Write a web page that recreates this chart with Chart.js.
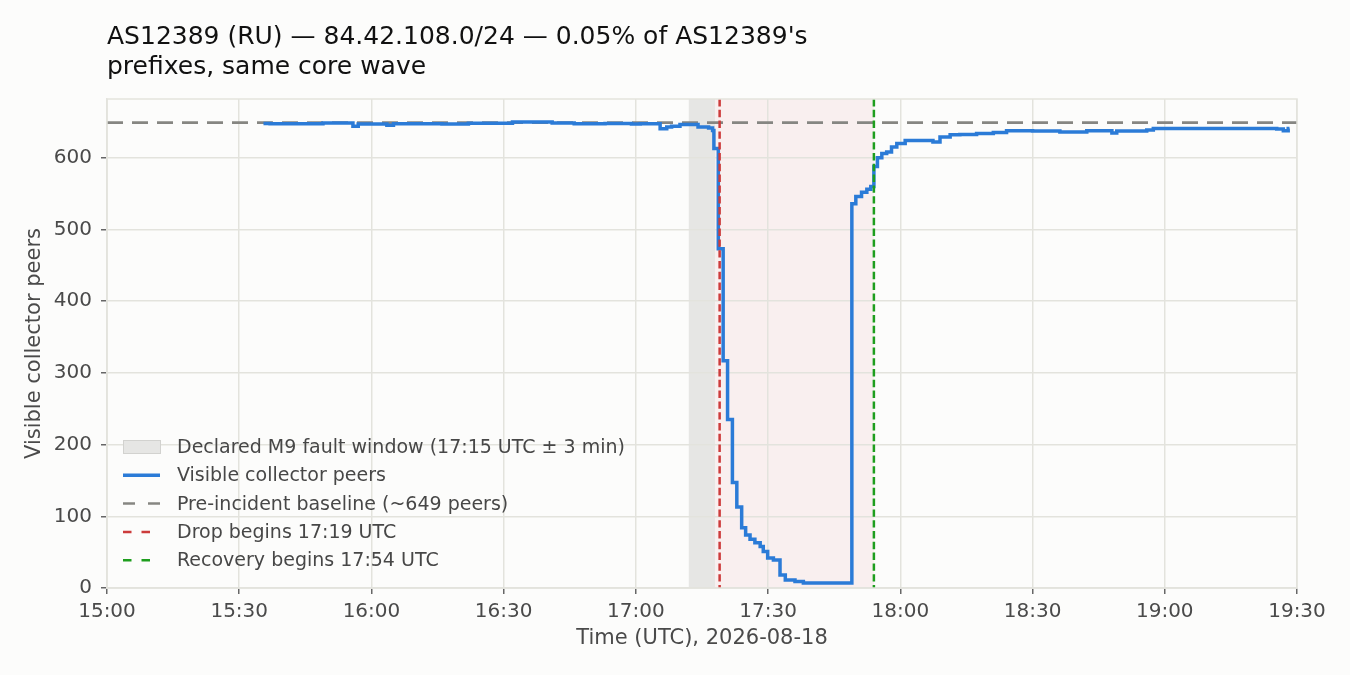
<!DOCTYPE html>
<html>
<head>
<meta charset="utf-8">
<script src="https://cdn.jsdelivr.net/npm/chart.js@4.4.1/dist/chart.umd.min.js"></script>
<style>
  html, body { margin: 0; padding: 0; background: #fcfcfb; }
  #chart { display: block; }
</style>
</head>
<body>
<canvas id="chart" width="1350" height="675"></canvas>
<script>
// minutes after 15:00 UTC, 2026-08-18
const minutes = [
  35.5, 37, 49, 55.8, 57, 63.5, 65, 76, 82, 92, 101, 106, 113, 119,
  121, 125.5, 127, 128.1, 130, 134.1, 136.5, 137.4, 137.7, 138.7,
  139.8, 140.8, 141.9, 142.9, 144.0, 144.9, 145.9, 147.0, 148.2, 148.9,
  149.9, 151.2, 152.7, 153.9, 156.1, 158.0,
  169.0, 169.9, 171.2, 172.4, 173.3, 174.0, 174.8, 175.8, 176.9, 178.0,
  179.2, 181.1, 187.4, 189.0, 191.3, 193.5, 197.3, 201.1, 204.1, 210,
  214.6, 216.2, 222.3, 228, 229.1, 235.9, 237.4, 265.4, 266.9, 268, 268.3
];
const peers = [
  648, 647.5, 648.5, 644, 647, 645.5, 647.5, 647, 648.3, 650, 648.5, 647.5, 648, 647,
  647.5, 640.5, 643, 644, 646.5, 643, 641.5, 638, 613, 473,
  317, 235, 147, 113, 84, 74, 68, 63, 58, 51,
  42, 39, 18, 11, 9, 7,
  536, 546, 552, 556, 560, 588, 600, 606, 608, 615,
  620, 624, 622, 629, 632, 632.6, 634, 635.4, 637.7, 637.3,
  637.5, 636, 637.7, 634.5, 637.3, 638.7, 641, 640, 637.7, 641, 641
];
const baselinePeers = 649;
const xTickLabels = ["15:00", "15:30", "16:00", "16:30", "17:00", "17:30", "18:00", "18:30", "19:00", "19:30"];
const yTicks = [0, 100, 200, 300, 400, 500, 600];
const faultWindow = [132, 138];   // 17:12 - 17:18
const outageWindow = [138, 174];  // 17:18 - 17:54
const dropStart = 139;            // 17:19
const recoveryStart = 174;        // 17:54

const titleLines = [
  "AS12389 (RU) \u2014 84.42.108.0/24 \u2014 0.05% of AS12389's",
  "prefixes, same core wave"
];
const legendItems = [
  { label: "Declared M9 fault window (17:15 UTC \u00b1 3 min)", kind: "patch" },
  { label: "Visible collector peers", kind: "line", color: "#2b7bd7" },
  { label: "Pre-incident baseline (~649 peers)", kind: "dash", color: "#868682" },
  { label: "Drop begins 17:19 UTC", kind: "short", color: "#cc3b3b" },
  { label: "Recovery begins 17:54 UTC", kind: "short", color: "#1e9e1e" }
];

const FONT = "'DejaVu Sans', sans-serif";
const gridColor = "#e3e3dd";

const decorPlugin = {
  id: "decor",
  beforeDraw(chart) {
    const { ctx, chartArea: a, scales: { x } } = chart;
    ctx.save();
    ctx.fillStyle = "#fcfcfb";
    ctx.fillRect(0, 0, chart.width, chart.height);
    ctx.fillStyle = "#e6e6e4";
    ctx.fillRect(x.getPixelForValue(faultWindow[0]), a.top,
      x.getPixelForValue(faultWindow[1]) - x.getPixelForValue(faultWindow[0]), a.bottom - a.top);
    ctx.fillStyle = "#f9efef";
    ctx.fillRect(x.getPixelForValue(outageWindow[0]), a.top,
      x.getPixelForValue(outageWindow[1]) - x.getPixelForValue(outageWindow[0]), a.bottom - a.top);
    ctx.restore();
  },
  afterDatasetsDraw(chart) {
    const { ctx, chartArea: a, scales: { x } } = chart;
    ctx.save();
    ctx.lineWidth = 2.5;
    ctx.setLineDash([7.4, 3.4]);
    [[dropStart, "#cc3b3b"], [recoveryStart, "#1e9e1e"]].forEach(([m, c]) => {
      const px = x.getPixelForValue(m);
      ctx.strokeStyle = c;
      ctx.beginPath();
      ctx.moveTo(px, a.top);
      ctx.lineTo(px, a.bottom);
      ctx.stroke();
    });
    ctx.restore();
  },
  afterDraw(chart) {
    const { ctx, chartArea: a } = chart;
    ctx.save();
    // top and right spines
    ctx.strokeStyle = gridColor;
    ctx.lineWidth = 1.5;
    ctx.strokeRect(a.left, a.top, a.right - a.left, a.bottom - a.top);

    // title
    ctx.fillStyle = "#111";
    ctx.font = "25px " + FONT;
    ctx.textBaseline = "alphabetic";
    ctx.textAlign = "left";
    titleLines.forEach((t, i) => ctx.fillText(t, 107, 44 + i * 29.7));

    // legend
    ctx.font = "19px " + FONT;
    ctx.textBaseline = "middle";
    legendItems.forEach((item, i) => {
      const cy = 447 + i * 28.3;
      if (item.kind === "patch") {
        ctx.fillStyle = "#e6e6e4";
        ctx.strokeStyle = "#d2d2cf";
        ctx.lineWidth = 1;
        ctx.fillRect(123.5, cy - 6.5, 37, 13);
        ctx.strokeRect(123.5, cy - 6.5, 37, 13);
      } else {
        ctx.strokeStyle = item.color;
        ctx.lineWidth = item.kind === "line" ? 3.5 : 2.5;
        ctx.setLineDash(item.kind === "dash" ? [12, 13] : item.kind === "short" ? [8.5, 10] : []);
        ctx.beginPath();
        ctx.moveTo(123, cy);
        ctx.lineTo(160, cy);
        ctx.stroke();
        ctx.setLineDash([]);
      }
      ctx.fillStyle = "#474747";
      ctx.fillText(item.label, 177, cy + 1);
    });
    ctx.restore();
  }
};

new Chart(document.getElementById("chart"), {
  type: "line",
  data: {
    datasets: [
      {
        label: "Pre-incident baseline",
        data: [{ x: 0, y: baselinePeers }, { x: 270, y: baselinePeers }],
        borderColor: "#868682",
        borderWidth: 2.6,
        borderDash: [16, 9],
        pointRadius: 0,
        order: 2
      },
      {
        label: "Visible collector peers",
        data: minutes.map((m, i) => ({ x: m, y: peers[i] })),
        stepped: true,
        borderColor: "#2b7bd7",
        borderWidth: 3.5,
        pointRadius: 0,
        fill: false,
        order: 1
      }
    ]
  },
  options: {
    responsive: false,
    animation: false,
    devicePixelRatio: 1,
    layout: { padding: { top: 99, right: 53, left: 0, bottom: 0 } },
    plugins: {
      legend: { display: false },
      title: { display: false },
      tooltip: { enabled: false }
    },
    scales: {
      x: {
        type: "linear",
        min: 0,
        max: 270,
        afterFit: (s) => { s.height = 87; },
        afterBuildTicks: (s) => { s.ticks = xTickLabels.map((_, i) => ({ value: i * 30 })); },
        ticks: {
          callback: (v) => xTickLabels[Math.round(v / 30)],
          font: { family: FONT, size: 20 },
          color: "#4a4a4a",
          padding: 6,
          maxRotation: 0
        },
        grid: { color: gridColor, lineWidth: 1.5, tickColor: "#666", tickLength: 6 },
        border: { color: gridColor, width: 1.5 },
        title: {
          display: true,
          text: "Time (UTC), 2026-08-18",
          font: { family: FONT, size: 21 },
          color: "#4a4a4a",
          padding: { top: 24, bottom: 24 }
        }
      },
      y: {
        min: 0,
        max: 682,
        afterFit: (s) => { s.width = 107; },
        afterBuildTicks: (s) => { s.ticks = yTicks.map((v) => ({ value: v })); },
        ticks: {
          font: { family: FONT, size: 20 },
          color: "#4a4a4a",
          padding: 9
        },
        grid: { color: gridColor, lineWidth: 1.5, tickColor: "#666", tickLength: 6 },
        border: { color: gridColor, width: 1.5 },
        title: {
          display: true,
          text: "Visible collector peers",
          font: { family: FONT, size: 21 },
          color: "#4a4a4a",
          padding: { top: 22, bottom: 22 }
        }
      }
    }
  },
  plugins: [decorPlugin]
});
</script>
</body>
</html>
